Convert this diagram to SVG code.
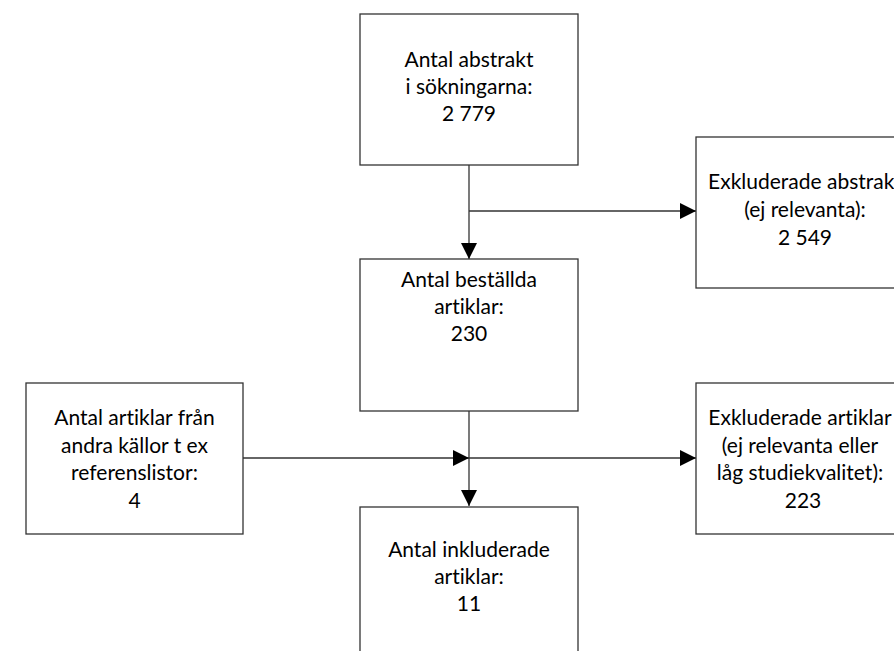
<svg xmlns="http://www.w3.org/2000/svg" width="894" height="651" viewBox="0 0 894 651">
<style>
.box{fill:#fff;stroke:#333;stroke-width:1.3}
.ln{fill:none;stroke:#333;stroke-width:1.3}
text{font-family:"Lato","Liberation Sans",sans-serif;font-size:21px;fill:#000;text-anchor:middle;font-variant-ligatures:none;font-feature-settings:"liga" 0}
</style>
<defs>
<marker id="ah" viewBox="0 0 16 16" refX="16" refY="8" markerWidth="16" markerHeight="16" markerUnits="userSpaceOnUse" orient="auto">
<path d="M0,0 L16,8 L0,16 Z" fill="#000"/>
</marker>
</defs>
<rect width="894" height="651" fill="#fff"/>
<g id="connectors">
<line class="ln" x1="469" y1="165" x2="469" y2="259" marker-end="url(#ah)"/>
<line class="ln" x1="469" y1="211" x2="696" y2="211" marker-end="url(#ah)"/>
<line class="ln" x1="469" y1="411" x2="469" y2="506" marker-end="url(#ah)"/>
<line class="ln" x1="243" y1="458" x2="469" y2="458" marker-end="url(#ah)"/>
<line class="ln" x1="469" y1="458" x2="696" y2="458" marker-end="url(#ah)"/>
</g>
<g id="n1">
<rect class="box" x="360" y="14" width="218" height="151"/>
<text x="469" y="67">Antal abstrakt</text>
<text x="469" y="94">i sökningarna:</text>
<text x="469" y="121">2 779</text>
</g>
<g id="n2">
<rect class="box" x="696" y="137" width="220" height="151"/>
<text x="805" y="189">Exkluderade abstrakt</text>
<text x="805" y="217">(ej relevanta):</text>
<text x="805" y="245">2 549</text>
</g>
<g id="n3">
<rect class="box" x="360" y="259" width="218" height="152"/>
<text x="469" y="287">Antal beställda</text>
<text x="469" y="314">artiklar:</text>
<text x="469" y="341">230</text>
</g>
<g id="n4">
<rect class="box" x="26" y="383" width="217" height="151"/>
<text x="134.5" y="425">Antal artiklar från</text>
<text x="134.5" y="453">andra källor t ex</text>
<text x="134.5" y="480">referenslistor:</text>
<text x="134.5" y="508">4</text>
</g>
<g id="n5">
<rect class="box" x="696" y="383" width="220" height="151"/>
<text x="800" y="425">Exkluderade artiklar</text>
<text x="800" y="453">(ej relevanta eller</text>
<text x="800" y="480">låg studiekvalitet):</text>
<text x="803" y="508">223</text>
</g>
<g id="n6">
<rect class="box" x="360" y="507" width="218" height="160"/>
<text x="469" y="557">Antal inkluderade</text>
<text x="469" y="584">artiklar:</text>
<text x="469" y="611">11</text>
</g>
</svg>
